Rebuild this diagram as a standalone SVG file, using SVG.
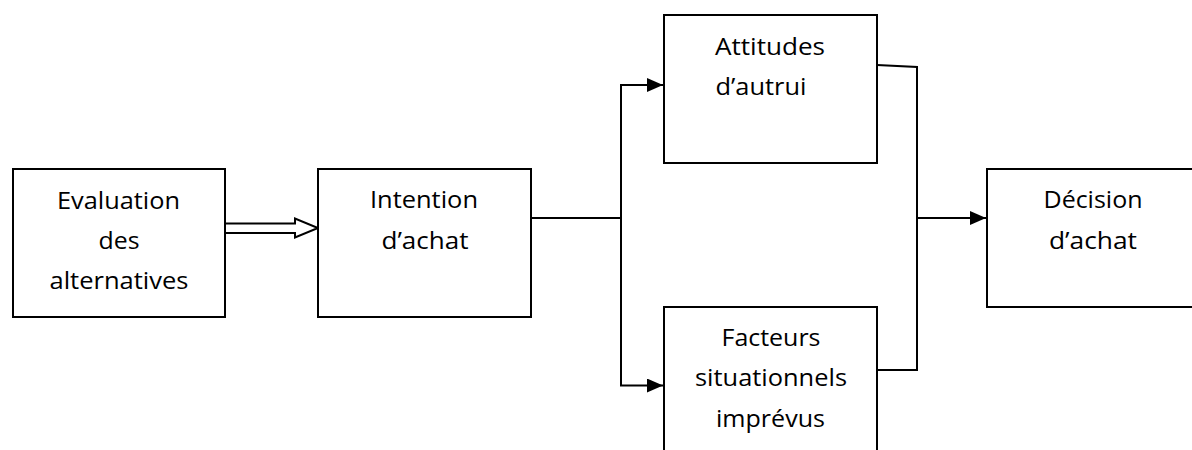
<svg xmlns="http://www.w3.org/2000/svg" width="1192" height="450" viewBox="0 0 1192 450">
  <style>
    .box { fill: #ffffff; stroke: #000000; stroke-width: 2; }
    .lbl { font-family: "Open Sans", "Liberation Sans", sans-serif; font-size: 24px; fill: #000000; text-anchor: middle; }
    .wire { fill: none; stroke: #000000; stroke-width: 2; }
  </style>
  <defs>
    <marker id="head" markerUnits="userSpaceOnUse" markerWidth="16" markerHeight="14" refX="16" refY="7" orient="auto">
      <path d="M0,0 L16,7 L0,14 Z" fill="#000000"/>
    </marker>
  </defs>

  <rect width="1192" height="450" fill="#ffffff"/>

  <!-- connectors -->
  <g id="connectors">
    <!-- hollow double-line arrow -->
    <path class="wire" d="M225,223.5 H295 V218.5 L318,228 L295,237.5 V233 H225" stroke-linejoin="miter"/>
    <!-- split from intention -->
    <path class="wire" d="M531,218 H621"/>
    <path class="wire" d="M621,385.5 V85 H663" marker-end="url(#head)"/>
    <path class="wire" d="M621,218 V385.5 H663" marker-end="url(#head)"/>
    <!-- merge towards decision -->
    <path class="wire" d="M877,65 L917,67 V370 H877"/>
    <path class="wire" d="M917,218 H986" marker-end="url(#head)"/>
  </g>

  <g id="evaluation">
    <rect class="box" x="13" y="169" width="212" height="148"/>
    <text class="lbl" x="118.5" y="209" textLength="123" lengthAdjust="spacingAndGlyphs">Evaluation</text>
    <text class="lbl" x="119" y="249" textLength="41" lengthAdjust="spacingAndGlyphs">des</text>
    <text class="lbl" x="119" y="289" textLength="139" lengthAdjust="spacingAndGlyphs">alternatives</text>
  </g>

  <g id="intention">
    <rect class="box" x="318" y="169" width="213" height="148"/>
    <text class="lbl" x="424" y="208" textLength="108" lengthAdjust="spacingAndGlyphs">Intention</text>
    <text class="lbl" x="425" y="249" textLength="87" lengthAdjust="spacingAndGlyphs">d’achat</text>
  </g>

  <g id="attitudes">
    <rect class="box" x="664" y="15" width="213" height="148"/>
    <text class="lbl" x="770" y="55" textLength="110" lengthAdjust="spacingAndGlyphs">Attitudes</text>
    <text class="lbl" x="761" y="95" textLength="91" lengthAdjust="spacingAndGlyphs">d’autrui</text>
  </g>

  <g id="facteurs">
    <rect class="box" x="664" y="307" width="213" height="150"/>
    <text class="lbl" x="771" y="346" textLength="99" lengthAdjust="spacingAndGlyphs">Facteurs</text>
    <text class="lbl" x="771" y="386" textLength="152" lengthAdjust="spacingAndGlyphs">situationnels</text>
    <text class="lbl" x="770.5" y="427" textLength="109" lengthAdjust="spacingAndGlyphs">imprévus</text>
  </g>

  <g id="decision">
    <rect class="box" x="987" y="169" width="220" height="138"/>
    <text class="lbl" x="1093" y="208" textLength="99" lengthAdjust="spacingAndGlyphs">Décision</text>
    <text class="lbl" x="1093" y="249" textLength="88" lengthAdjust="spacingAndGlyphs">d’achat</text>
  </g>
</svg>
